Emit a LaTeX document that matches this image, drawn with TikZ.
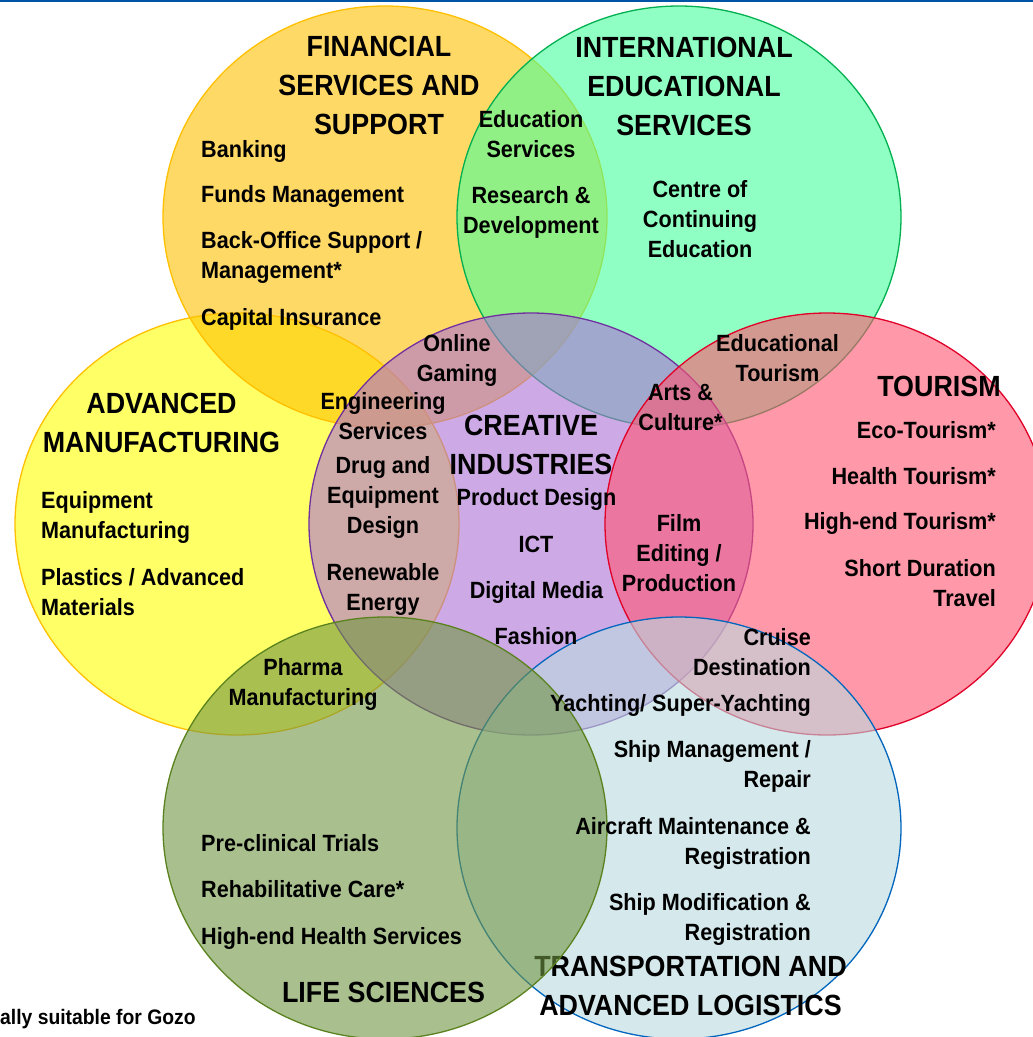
\documentclass[tikz,border=0pt]{standalone}
\usepackage{fontspec}
\newfontfamily\vf[FakeStretch=0.92]{Liberation Sans}
\definecolor{cOr}{RGB}{255,192,0}
\definecolor{cGr}{RGB}{70,255,155}
\definecolor{cYe}{RGB}{255,255,0}
\definecolor{cPu}{RGB}{172,113,213}
\definecolor{cPi}{RGB}{255,85,113}
\definecolor{cBl}{RGB}{185,218,223}
\definecolor{cOl}{RGB}{113,150,67}
\definecolor{sOr}{RGB}{255,192,0}
\definecolor{sGr}{RGB}{0,176,80}
\definecolor{sYe}{RGB}{255,192,0}
\definecolor{sPu}{RGB}{112,48,160}
\definecolor{sPi}{RGB}{224,0,40}
\definecolor{sBl}{RGB}{0,102,190}
\definecolor{sOl}{RGB}{90,130,30}
\definecolor{topblue}{RGB}{0,84,166}
\newcommand\bodyf{\vf\bfseries\fontsize{23.5}{30}\selectfont}
\newcommand\ttlf{\vf\bfseries\fontsize{29.2}{39}\selectfont}
\newcommand\notef{\vf\bfseries\fontsize{21}{26}\selectfont}
\newcommand\mystrut{\rule[-0.25em]{0pt}{0.97em}}
\tikzset{
  venn/.style={fill opacity=0.6, line width=1.3pt},
  body/.style={font=\bodyf, inner sep=0pt, yshift=-3pt, execute at begin node=\mystrut, execute at end node=\mystrut},
  ttl/.style={font=\ttlf, inner sep=0pt, yshift=-4pt, execute at begin node=\mystrut, execute at end node=\mystrut},
  bl/.style={body, anchor=west, align=left},
  br/.style={body, anchor=east, align=right},
  bc/.style={body, anchor=center, align=center},
}
\begin{document}
\begin{tikzpicture}[x=1pt, y=-1pt]
\useasboundingbox (0,0) rectangle (1033,1037);
\fill[white] (0,0) rectangle (1033,1037);
\fill[topblue] (0,0) rectangle (1033,2);
% circles
\draw[venn, fill=cYe, draw=sYe] (237,524) ellipse [x radius=222pt, y radius=211pt];
\draw[venn, fill=cOr, draw=sOr] (385,217) ellipse [x radius=222pt, y radius=211pt];
\draw[venn, fill=cGr, draw=sGr] (679,217) ellipse [x radius=222pt, y radius=211pt];
\draw[venn, fill=cPu, draw=sPu] (531,524) ellipse [x radius=222pt, y radius=211pt];
\draw[venn, fill=cPi, draw=sPi] (827,524) ellipse [x radius=222pt, y radius=211pt];
\draw[venn, fill=cBl, draw=sBl] (679,828) ellipse [x radius=222pt, y radius=211pt];
\node[ttl, align=center] (tTra) at (690.5,985.5) {TRANSPORTATION AND\\ADVANCED LOGISTICS};
\draw[venn, fill=cOl, draw=sOl] (385,828) ellipse [x radius=222pt, y radius=211pt];
% financial
\node[ttl, align=center] (tFin) at (379,85.3) {FINANCIAL\\SERVICES AND\\SUPPORT};
\node[bl] (f1) at (201,149) {Banking};
\node[bl] (f2) at (201,194) {Funds Management};
\node[bl] (f3) at (201,255) {Back-Office Support /\\Management*};
\node[bl] (f4) at (201,317) {Capital Insurance};
% international education
\node[ttl, align=center] (tEdu) at (684,86) {INTERNATIONAL\\EDUCATIONAL\\SERVICES};
\node[bc] (e1) at (531,133.5) {Education\\Services};
\node[bc] (e2) at (531,210) {Research \&\\Development};
\node[bc] (e3) at (700,219) {Centre of\\Continuing\\Education};
% advanced manufacturing
\node[ttl, align=center] (tMan) at (161.5,422) {ADVANCED\\MANUFACTURING};
\node[bl] (m1) at (41,515) {Equipment\\Manufacturing};
\node[bl] (m2) at (41,592) {Plastics / Advanced\\Materials};
% creative
\node[bc] (c1) at (457,358) {Online\\Gaming};
\node[bc] (c2) at (383,416) {Engineering\\Services};
\node[bc] (c3) at (383,495) {Drug and\\Equipment\\Design};
\node[bc] (c4) at (383,587) {Renewable\\Energy};
\node[ttl, align=center] (tCre) at (531,444.5) {CREATIVE\\INDUSTRIES};
\node[bc] (c5) at (536.5,497) {Product Design};
\node[bc] (c6) at (536,544) {ICT};
\node[bc] (c7) at (536.5,590) {Digital Media};
\node[bc] (c8) at (536,636) {Fashion};
% tourism
\node[bc] (t1) at (777.5,357.5) {Educational\\Tourism};
\node[bc] (t2) at (680.5,407) {Arts \&\\Culture*};
\node[ttl] (tTou) at (939,386) {TOURISM};
\node[br] (t3) at (996,430) {Eco-Tourism*};
\node[br] (t4) at (996,476) {Health Tourism*};
\node[br] (t5) at (996,521) {High-end Tourism*};
\node[br] (t6) at (996,582.5) {Short Duration\\Travel};
\node[bc] (t7) at (679,553) {Film\\Editing /\\Production};
% transportation
\node[br] (r1) at (811,651.5) {Cruise\\Destination};
\node[br] (r2) at (811,703) {Yachting/ Super-Yachting};
\node[br] (r3) at (811,764) {Ship Management /\\Repair};
\node[br] (r4) at (811,841) {Aircraft Maintenance \&\\Registration};
\node[br] (r5) at (811,917) {Ship Modification \&\\Registration};
% life sciences
\node[bc] (l1) at (303,682) {Pharma\\Manufacturing};
\node[bl] (l2) at (201,843) {Pre-clinical Trials};
\node[bl] (l3) at (201,889) {Rehabilitative Care*};
\node[bl] (l4) at (201,936) {High-end Health Services};
\node[ttl] (tLif) at (383.5,992) {LIFE SCIENCES};
% note
\node[font=\notef, inner sep=0pt, anchor=west, yshift=-3pt, execute at begin node=\mystrut, execute at end node=\mystrut] (note) at (0,1017) {ally suitable for Gozo};
\end{tikzpicture}
\end{document}
